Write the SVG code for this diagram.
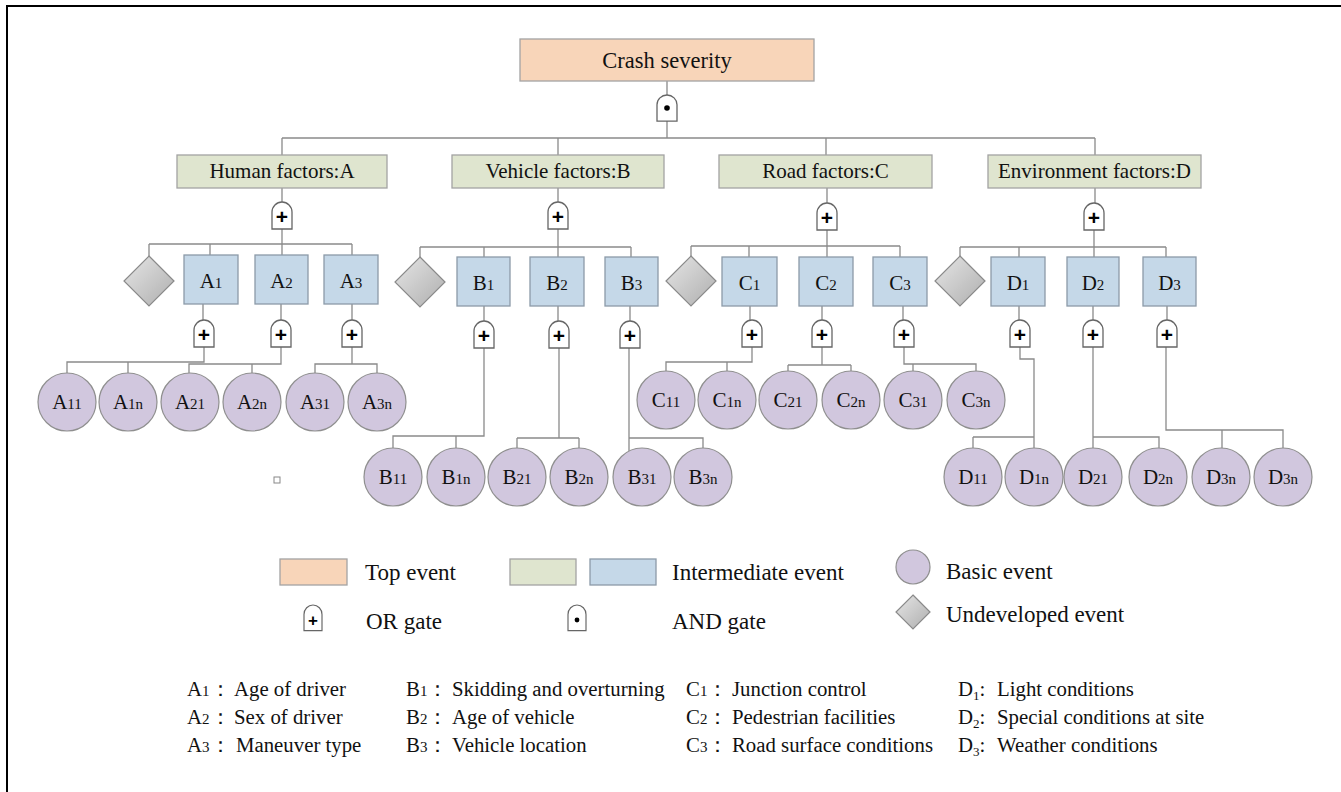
<svg xmlns="http://www.w3.org/2000/svg" xmlns:xlink="http://www.w3.org/1999/xlink" width="1341" height="792" viewBox="0 0 1341 792">
<defs>
<linearGradient id="dg" x1="0" y1="0" x2="1" y2="1">
<stop offset="0" stop-color="#e6e6e6"/>
<stop offset="1" stop-color="#aeaeae"/>
</linearGradient>
<path id="gate" d="M-10,27 V10 A10,10 0 0 1 10,10 V27 Z"/>
<path id="dia" d="M0,-25 L25,0 L0,25 L-25,0 Z"/>
<path id="diaS" d="M0,-17 L17,0 L0,17 L-17,0 Z"/>
</defs>
<style>
.top{fill:#f8d5b9;stroke:#a3a3a3;stroke-width:1.3}
.grn{fill:#dfe5cf;stroke:#a3a3a3;stroke-width:1.3}
.blu{fill:#c5d8e8;stroke:#8c9aa8;stroke-width:1.3}
.bas{fill:#d1c7de;stroke:#8f8f8f;stroke-width:1.2}
.und{fill:url(#dg);stroke:#8a8a8a;stroke-width:1.2}
.g{fill:#fff;stroke:#666;stroke-width:1.3}
.c{fill:none;stroke:#8a8a8a;stroke-width:1.3}
text{font-family:"Liberation Serif","Times New Roman",serif;fill:#111}
.lb{font-size:21px;text-anchor:middle}
.nd{font-size:21px;text-anchor:middle}
.sm{font-size:15px}
.pl{font-family:"Liberation Sans",Arial,sans-serif;font-weight:bold;font-size:21px;text-anchor:middle;fill:#000}
.lg{font-size:23px}
</style>
<rect x="0" y="0" width="1341" height="792" fill="#fff"/>
<path d="M7,792 V6 H1341" fill="none" stroke="#000" stroke-width="2"/>

<g id="connectors" class="c">
<path d="M667,81V95M667,121V138M282,138H1095M282,138V155M558,138V155M826,138V155M1095,138V155"/>
<path d="M282,188V202M282,229V255M149,244H352M149,244V256M210,244V255M352,244V255"/>
<path d="M558,188V202M558,229V257M420,247H631M420,247V257M484,247V257M631,247V257"/>
<path d="M827,188V203M827,230V257M691,246H900M691,246V256M749,246V257M900,246V257"/>
<path d="M1095,188V203M1094,230V257M960,247H1166M960,247V256M1019,247V257M1166,247V257"/>
<path d="M203,304V320M204,347V362H67V373M128,362V373"/>
<path d="M281,304V320M281,347V364H189V373M252,364V373"/>
<path d="M352,304V320M352,347V364H315V373M352,364H377V373"/>
<path d="M484,306V321M484,348V436H393V448M456,436V448"/>
<path d="M558,306V321M559,348V438M517,438H579M517,438V448M579,438V448"/>
<path d="M630,306V321M629,348V451M629,438H703V448"/>
<path d="M750,306V322M752,347V362H666V371M727,362V371"/>
<path d="M822,306V322M822,347V365M788,365H851M788,365V371M851,365V371"/>
<path d="M903,306V322M904,347V364H976V371M913,364V371"/>
<path d="M1019,306V321M1020,347V359H1034V448M973,437H1034M973,437V448"/>
<path d="M1093,306V321M1093,347V448M1093,437H1159V448"/>
<path d="M1167,306V321M1166,347V430H1283V448M1222,430V448"/>
</g>

<g id="top-event"><rect class="top" x="520" y="39" width="294" height="42"/><text x="667" y="68" style="font-size:22.5px;text-anchor:middle">Crash severity</text></g>
<g id="and-gate"><use href="#gate" class="g" transform="translate(667,95) scale(1,0.963)"/><circle cx="667" cy="108" r="2.8" fill="#000"/></g>

<g id="human"><rect class="grn" x="177" y="155" width="210" height="33"/><text class="lb" x="282" y="178">Human factors:A</text></g>
<g id="vehicle"><rect class="grn" x="452" y="155" width="212" height="33"/><text class="lb" x="558" y="178">Vehicle factors:B</text></g>
<g id="road"><rect class="grn" x="719" y="155" width="213" height="33"/><text class="lb" x="825.5" y="178">Road factors:C</text></g>
<g id="environment"><rect class="grn" x="988" y="155" width="213" height="33"/><text class="lb" x="1094.5" y="178">Environment factors:D</text></g>

<g id="gate-A"><use href="#gate" class="g" transform="translate(282,202)"/><text class="pl" x="282" y="224">+</text></g>
<g id="gate-B"><use href="#gate" class="g" transform="translate(558,202)"/><text class="pl" x="558" y="224">+</text></g>
<g id="gate-C"><use href="#gate" class="g" transform="translate(827,203)"/><text class="pl" x="827" y="225">+</text></g>
<g id="gate-D"><use href="#gate" class="g" transform="translate(1094,203)"/><text class="pl" x="1094" y="225">+</text></g>

<g id="undev-A"><use href="#dia" class="und" transform="translate(149,281)"/></g>
<g id="undev-B"><use href="#dia" class="und" transform="translate(420,282)"/></g>
<g id="undev-C"><use href="#dia" class="und" transform="translate(691,281)"/></g>
<g id="undev-D"><use href="#dia" class="und" transform="translate(960,281)"/></g>

<g id="A1"><rect class="blu" x="184" y="255" width="54" height="49"/><text class="nd" x="211" y="288">A<tspan class="sm">1</tspan></text></g>
<g id="A2"><rect class="blu" x="255" y="255" width="53" height="49"/><text class="nd" x="281.5" y="288">A<tspan class="sm">2</tspan></text></g>
<g id="A3"><rect class="blu" x="324" y="255" width="54" height="49"/><text class="nd" x="351" y="288">A<tspan class="sm">3</tspan></text></g>
<g id="B1"><rect class="blu" x="457" y="257" width="53" height="49"/><text class="nd" x="483.5" y="290">B<tspan class="sm">1</tspan></text></g>
<g id="B2"><rect class="blu" x="530" y="257" width="54" height="49"/><text class="nd" x="557" y="290">B<tspan class="sm">2</tspan></text></g>
<g id="B3"><rect class="blu" x="605" y="257" width="53" height="49"/><text class="nd" x="631.5" y="290">B<tspan class="sm">3</tspan></text></g>
<g id="C1"><rect class="blu" x="722" y="257" width="55" height="49"/><text class="nd" x="749.5" y="290">C<tspan class="sm">1</tspan></text></g>
<g id="C2"><rect class="blu" x="799" y="257" width="54" height="49"/><text class="nd" x="826" y="290">C<tspan class="sm">2</tspan></text></g>
<g id="C3"><rect class="blu" x="873" y="257" width="54" height="49"/><text class="nd" x="900" y="290">C<tspan class="sm">3</tspan></text></g>
<g id="D1"><rect class="blu" x="991" y="257" width="54" height="49"/><text class="nd" x="1018" y="290">D<tspan class="sm">1</tspan></text></g>
<g id="D2"><rect class="blu" x="1067" y="257" width="52" height="49"/><text class="nd" x="1093" y="290">D<tspan class="sm">2</tspan></text></g>
<g id="D3"><rect class="blu" x="1143" y="257" width="53" height="49"/><text class="nd" x="1169.5" y="290">D<tspan class="sm">3</tspan></text></g>

<g id="gate-A1"><use href="#gate" class="g" transform="translate(204,320)"/><text class="pl" x="204" y="342">+</text></g>
<g id="gate-A2"><use href="#gate" class="g" transform="translate(281,320)"/><text class="pl" x="281" y="342">+</text></g>
<g id="gate-A3"><use href="#gate" class="g" transform="translate(352,320)"/><text class="pl" x="352" y="342">+</text></g>
<g id="gate-B1"><use href="#gate" class="g" transform="translate(484,321)"/><text class="pl" x="484" y="343">+</text></g>
<g id="gate-B2"><use href="#gate" class="g" transform="translate(559,321)"/><text class="pl" x="559" y="343">+</text></g>
<g id="gate-B3"><use href="#gate" class="g" transform="translate(630,321)"/><text class="pl" x="630" y="343">+</text></g>
<g id="gate-C1"><use href="#gate" class="g" transform="translate(752,320)"/><text class="pl" x="752" y="342">+</text></g>
<g id="gate-C2"><use href="#gate" class="g" transform="translate(822,320)"/><text class="pl" x="822" y="342">+</text></g>
<g id="gate-C3"><use href="#gate" class="g" transform="translate(904,320)"/><text class="pl" x="904" y="342">+</text></g>
<g id="gate-D1"><use href="#gate" class="g" transform="translate(1020,320)"/><text class="pl" x="1020" y="342">+</text></g>
<g id="gate-D2"><use href="#gate" class="g" transform="translate(1093,320)"/><text class="pl" x="1093" y="342">+</text></g>
<g id="gate-D3"><use href="#gate" class="g" transform="translate(1167,320)"/><text class="pl" x="1167" y="342">+</text></g>

<g id="A11"><circle class="bas" cx="67" cy="402" r="29"/><text class="nd" x="67" y="409">A<tspan class="sm">11</tspan></text></g>
<g id="A1n"><circle class="bas" cx="128" cy="402" r="29"/><text class="nd" x="128" y="409">A<tspan class="sm">1n</tspan></text></g>
<g id="A21"><circle class="bas" cx="190" cy="402" r="29"/><text class="nd" x="190" y="409">A<tspan class="sm">21</tspan></text></g>
<g id="A2n"><circle class="bas" cx="252" cy="402" r="29"/><text class="nd" x="252" y="409">A<tspan class="sm">2n</tspan></text></g>
<g id="A31"><circle class="bas" cx="315" cy="402" r="29"/><text class="nd" x="315" y="409">A<tspan class="sm">31</tspan></text></g>
<g id="A3n"><circle class="bas" cx="377" cy="402" r="29"/><text class="nd" x="377" y="409">A<tspan class="sm">3n</tspan></text></g>

<g id="B11"><circle class="bas" cx="393" cy="477" r="29"/><text class="nd" x="393" y="484">B<tspan class="sm">11</tspan></text></g>
<g id="B1n"><circle class="bas" cx="456" cy="477" r="29"/><text class="nd" x="456" y="484">B<tspan class="sm">1n</tspan></text></g>
<g id="B21"><circle class="bas" cx="517" cy="477" r="29"/><text class="nd" x="517" y="484">B<tspan class="sm">21</tspan></text></g>
<g id="B2n"><circle class="bas" cx="579" cy="477" r="29"/><text class="nd" x="579" y="484">B<tspan class="sm">2n</tspan></text></g>
<g id="B31"><circle class="bas" cx="642" cy="477" r="29"/><text class="nd" x="642" y="484">B<tspan class="sm">31</tspan></text></g>
<g id="B3n"><circle class="bas" cx="703" cy="477" r="29"/><text class="nd" x="703" y="484">B<tspan class="sm">3n</tspan></text></g>

<g id="C11"><circle class="bas" cx="666" cy="400" r="29"/><text class="nd" x="666" y="407">C<tspan class="sm">11</tspan></text></g>
<g id="C1n"><circle class="bas" cx="727" cy="400" r="29"/><text class="nd" x="727" y="407">C<tspan class="sm">1n</tspan></text></g>
<g id="C21"><circle class="bas" cx="788" cy="400" r="29"/><text class="nd" x="788" y="407">C<tspan class="sm">21</tspan></text></g>
<g id="C2n"><circle class="bas" cx="851" cy="400" r="29"/><text class="nd" x="851" y="407">C<tspan class="sm">2n</tspan></text></g>
<g id="C31"><circle class="bas" cx="913" cy="400" r="29"/><text class="nd" x="913" y="407">C<tspan class="sm">31</tspan></text></g>
<g id="C3n"><circle class="bas" cx="976" cy="400" r="29"/><text class="nd" x="976" y="407">C<tspan class="sm">3n</tspan></text></g>

<g id="D11"><circle class="bas" cx="973" cy="477" r="29"/><text class="nd" x="973" y="484">D<tspan class="sm">11</tspan></text></g>
<g id="D1n"><circle class="bas" cx="1034" cy="477" r="29"/><text class="nd" x="1034" y="484">D<tspan class="sm">1n</tspan></text></g>
<g id="D21"><circle class="bas" cx="1093" cy="477" r="29"/><text class="nd" x="1093" y="484">D<tspan class="sm">21</tspan></text></g>
<g id="D2n"><circle class="bas" cx="1158" cy="477" r="29"/><text class="nd" x="1158" y="484">D<tspan class="sm">2n</tspan></text></g>
<g id="D3n-a"><circle class="bas" cx="1221" cy="477" r="29"/><text class="nd" x="1221" y="484">D<tspan class="sm">3n</tspan></text></g>
<g id="D3n-b"><circle class="bas" cx="1283" cy="477" r="29"/><text class="nd" x="1283" y="484">D<tspan class="sm">3n</tspan></text></g>

<rect x="274" y="477" width="6" height="6" fill="#fff" stroke="#888" stroke-width="1"/>

<g id="legend">
<rect class="top" x="280" y="559" width="67" height="26"/>
<text class="lg" x="365" y="580">Top event</text>
<rect class="grn" x="510" y="559" width="66" height="26"/>
<rect class="blu" x="590" y="559" width="66" height="26"/>
<text class="lg" x="672" y="580">Intermediate event</text>
<circle class="bas" cx="913" cy="567" r="17"/>
<text class="lg" x="946" y="579">Basic event</text>
<use href="#gate" class="g" transform="translate(313,605) scale(0.9,0.95)"/>
<text class="pl" x="313" y="626" style="font-size:17px">+</text>
<text class="lg" x="366" y="629">OR gate</text>
<use href="#gate" class="g" transform="translate(577,605) scale(0.9,0.95)"/>
<circle cx="577" cy="620" r="2.4" fill="#000"/>
<text class="lg" x="672" y="629">AND gate</text>
<use href="#diaS" class="und" transform="translate(913,612)"/>
<text class="lg" x="946" y="622">Undeveloped event</text>
</g>

<g id="notes" font-size="20.8">
<text x="187" y="696">A<tspan class="sm">1</tspan>：</text>
<text x="234" y="696">Age of driver</text>
<text x="187" y="724">A<tspan class="sm">2</tspan>：</text>
<text x="234" y="724">Sex of driver</text>
<text x="187" y="752">A<tspan class="sm">3</tspan>：</text>
<text x="236" y="752">Maneuver type</text>
<text x="406" y="696">B<tspan class="sm">1</tspan>：</text>
<text x="452" y="696">Skidding and overturning</text>
<text x="406" y="724">B<tspan class="sm">2</tspan>：</text>
<text x="452" y="724">Age of vehicle</text>
<text x="406" y="752">B<tspan class="sm">3</tspan>：</text>
<text x="452" y="752">Vehicle location</text>
<text x="686" y="696">C<tspan class="sm">1</tspan>：</text>
<text x="732" y="696">Junction control</text>
<text x="686" y="724">C<tspan class="sm">2</tspan>：</text>
<text x="732" y="724">Pedestrian facilities</text>
<text x="686" y="752">C<tspan class="sm">3</tspan>：</text>
<text x="732" y="752">Road surface conditions</text>
<text x="958" y="696">D<tspan font-size="13" dy="4">1</tspan><tspan dy="-4">:</tspan></text>
<text x="997" y="696">Light conditions</text>
<text x="958" y="724">D<tspan font-size="13" dy="4">2</tspan><tspan dy="-4">:</tspan></text>
<text x="997" y="724">Special conditions at site</text>
<text x="958" y="752">D<tspan font-size="13" dy="4">3</tspan><tspan dy="-4">:</tspan></text>
<text x="997" y="752">Weather conditions</text>
</g>
</svg>
